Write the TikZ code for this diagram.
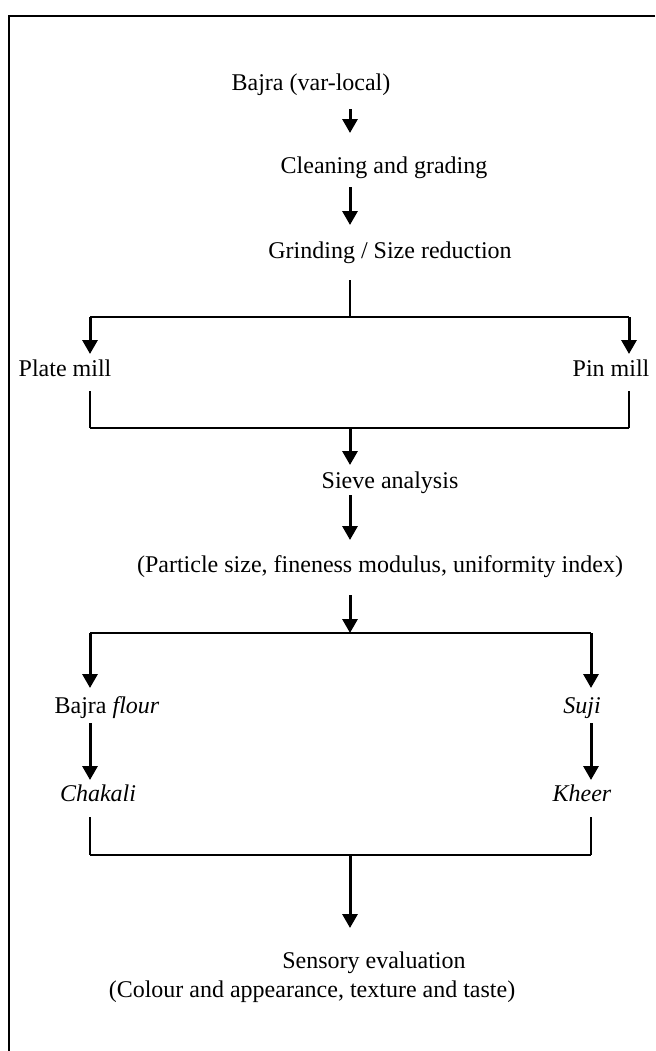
\documentclass[tikz,border=0pt]{standalone}
\usepackage{fontspec}
\setmainfont{Liberation Serif}
\usepackage{tikz}
\usetikzlibrary{arrows.meta, positioning}

\begin{document}
\begin{tikzpicture}[x=0.5pt, y=-0.5pt,
    lbl/.style={inner sep=0pt, font=\fontsize{12}{14}\selectfont},
    arr/.style={line width=1.5pt, -{Triangle[length=7pt, width=7.5pt]}},
    ln/.style={line width=0.7pt}]
    \useasboundingbox (0,0) rectangle (655,1051);

    % Khung ngoai (chi canh tren va canh trai)
    \draw[line width=1.2pt] (655,16) -- (9,16) -- (9,1051);

    % truc giua cua cac mui ten
    \coordinate (mid) at (350,0);

    % Cac buoc tren cung
    \node[lbl] (bajra) at (311,85) {Bajra (var-local)};
    \node[lbl] (clean) at (384,168) {Cleaning and grading};
    \node[lbl] (grind) at (390,253) {Grinding / Size reduction};
    \draw[arr, shorten <=12pt, shorten >=17.5pt] (bajra -| mid) -- (clean -| mid);
    \draw[arr, shorten <=9.5pt, shorten >=14pt] (clean -| mid) -- (grind -| mid);

    % Re nhanh: plate mill / pin mill
    \coordinate (s1m) at (350,317);
    \coordinate (s1l) at (90,317);
    \coordinate (s1r) at (629,317);
    \node[lbl] (plate) at (65,368) {Plate mill};
    \node[lbl] (pin) at (611,368) {Pin mill};
    \draw[ln, shorten <=13.5pt] (grind -| mid) -- (s1m);
    \draw[ln] (s1l) -- (s1r);
    \draw[arr, shorten >=7pt] (s1l) -- (plate -| s1l);
    \draw[arr, shorten >=7pt] (s1r) -- (pin -| s1r);

    % Gop lai
    \coordinate (m1m) at (350,428);
    \coordinate (m1l) at (90,428);
    \coordinate (m1r) at (629,428);
    \draw[ln, shorten <=11.5pt] (plate -| s1l) -- (m1l);
    \draw[ln, shorten <=11.5pt] (pin -| s1r) -- (m1r);
    \draw[ln] (m1l) -- (m1r);

    % Phan tich sang
    \node[lbl] (sieve) at (390,483) {Sieve analysis};
    \node[lbl] (part) at (380,567) {(Particle size, fineness modulus, uniformity index)};
    \draw[arr, shorten >=9pt] (m1m) -- (sieve -| mid);
    \draw[arr, shorten <=6pt, shorten >=13.5pt] (sieve -| mid) -- (part -| mid);

    % Re nhanh: flour / suji
    \coordinate (s2m) at (350,633);
    \coordinate (s2l) at (90,633);
    \coordinate (s2r) at (591,633);
    \draw[arr, shorten <=14pt] (part -| mid) -- (s2m);
    \draw[ln] (s2l) -- (s2r);
    \node[lbl] (flour) at (107,708) {Bajra \textit{flour}};
    \node[lbl] (suji) at (582,708) {\textit{Suji}};
    \node[lbl] (chakali) at (98,793) {\textit{Chakali}};
    \node[lbl] (kheer) at (582,793) {\textit{Kheer}};
    \draw[arr, shorten >=10pt] (s2l) -- (flour -| s2l);
    \draw[arr, shorten >=10pt] (s2r) -- (suji -| s2r);
    \draw[arr, shorten <=7.5pt, shorten >=6.5pt] (flour -| s2l) -- (chakali -| s2l);
    \draw[arr, shorten <=7.5pt, shorten >=6.5pt] (suji -| s2r) -- (kheer -| s2r);

    % Gop lai va danh gia cam quan
    \coordinate (m2m) at (350,855);
    \coordinate (m2l) at (90,855);
    \coordinate (m2r) at (591,855);
    \draw[ln, shorten <=12pt] (chakali -| s2l) -- (m2l);
    \draw[ln, shorten <=12pt] (kheer -| s2r) -- (m2r);
    \draw[ln] (m2l) -- (m2r);
    \node[lbl] (sensory) at (374,963) {Sensory evaluation};
    \node[lbl] (colour) at (312,992) {(Colour and appearance, texture and taste)};
    \draw[arr, shorten >=17.5pt] (m2m) -- (sensory -| mid);
\end{tikzpicture}
\end{document}
